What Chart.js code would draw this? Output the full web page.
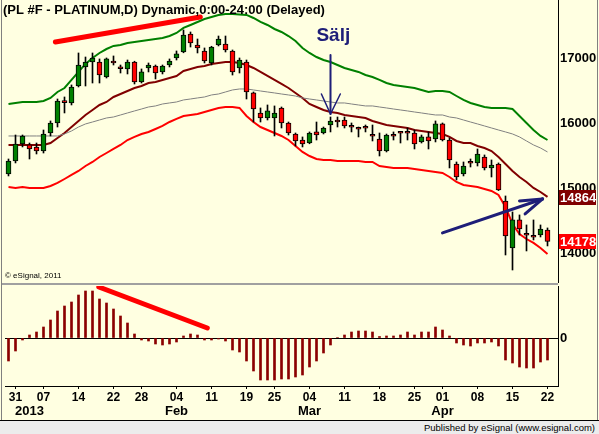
<!DOCTYPE html>
<html>
<head>
<meta charset="utf-8">
<script src="https://cdn.jsdelivr.net/npm/chart.js@4.4.1/dist/chart.umd.min.js"></script>
<style>
  html, body { margin: 0; padding: 0; background: #ececec; }
  #wrap { position: relative; width: 599px; height: 434px; background: #ffffe1; overflow: hidden; }
  #main { position: absolute; left: 0; top: 0; }
  #osc { position: absolute; left: 0; top: 286px; }
  #sep { position: absolute; left: 2px; top: 283px; width: 556px; height: 2px; background: #a0a0a0; }
  #lb { position: absolute; left: 1px; top: 0; width: 1px; height: 420px; background: #808080; }
  #rb { position: absolute; left: 597px; top: 0; width: 1px; height: 420px; background: #808080; }
  #footer { position: absolute; left: 0; top: 420px; width: 599px; height: 14px; background: #ececec;
            border-top: 1px solid #000; box-sizing: border-box; font: 9.5px "Liberation Sans", Arial, sans-serif;
            color: #000; text-align: right; padding-right: 4px; line-height: 13px; }
</style>
</head>
<body>
<div id="wrap">
  <canvas id="main" width="599" height="283"></canvas>
  <div id="sep"></div>
  <canvas id="osc" width="599" height="134"></canvas>
  <div id="lb"></div>
  <div id="rb"></div>
  <div id="footer">Published by eSignal (www.esignal.com)</div>
</div>
<script>
// trading days Dec 28 2012 .. Apr 22 2013
const dates = ['12-28','12-31','01-02','01-03','01-04','01-07','01-08','01-09','01-10','01-11',
  '01-14','01-15','01-16','01-17','01-18','01-22','01-23','01-24','01-25','01-28','01-29','01-30','01-31',
  '02-01','02-04','02-05','02-06','02-07','02-08','02-11','02-12','02-13','02-14','02-15','02-19','02-20',
  '02-21','02-22','02-25','02-26','02-27','02-28','03-01','03-04','03-05','03-06','03-07','03-08','03-11',
  '03-12','03-13','03-14','03-15','03-18','03-19','03-20','03-21','03-22','03-25','03-26','03-27','03-28',
  '04-01','04-02','04-03','04-04','04-05','04-08','04-09','04-10','04-11','04-12','04-15','04-16','04-17',
  '04-18','04-19','04-22'];

const open  = [15215,15415,15677,15662,15631,15569,15846,16000,16323,16308,16569,16862,16938,16938,16708,16954,16846,16831,16938,16631,
  16846,16877,16785,16892,17000,17092,17369,17200,17108,16923,17200,17215,17108,16846,16938,16462,16154,16077,16077,16231,
  16000,15831,15738,15692,15862,15846,15969,16046,16046,15938,15908,15923,15800,15754,15569,15800,15846,15846,15846,15708,
  15785,15754,15985,15738,15369,15215,15385,15385,15477,15308,15369,14800,14077,14508,14277,14246,14277,14354];
const high  = [15446,15815,15815,15692,15692,15892,16031,16369,16400,16585,17077,17015,17077,16985,17000,17031,16892,16969,16950,16831,
  16923,16892,16892,16985,17108,17431,17400,17292,17154,17180,17338,17338,17123,17000,16969,16477,16231,16277,16262,16246,
  16015,15846,15785,15862,16015,15938,16092,16092,16092,16000,15938,15969,15969,15846,15830,15862,15862,15923,15892,15815,
  15862,16031,16000,15769,15400,15400,15446,15600,15508,15431,15385,14877,14631,14585,14431,14508,14431,14385];
const low   = [15185,15385,15631,15446,15523,15538,15800,15938,16154,16277,16554,16569,16615,16615,16692,16892,16769,16754,16600,16615,
  16785,16677,16754,16862,16969,17080,17169,17077,16923,16892,17185,17092,16738,16769,16369,16015,16015,16046,15800,15923,
  15815,15646,15631,15680,15738,15831,15862,15938,15923,15862,15785,15862,15723,15492,15554,15738,15692,15738,15600,15692,
  15600,15708,15723,15308,15123,15185,15323,15338,15277,15169,14960,13969,13738,14277,14031,14200,14246,14108];
const close = [15415,15677,15800,15600,15569,15831,16000,16338,16312,16554,16892,16938,17000,16738,16985,16923,16834,16938,16631,16785,
  16892,16769,16877,16954,17062,17354,17231,17154,16954,17169,17292,17123,16785,16969,16477,16215,16077,16185,16154,16000,
  15846,15723,15677,15846,15815,15923,16031,16015,15954,15934,15904,15919,15796,15569,15815,15796,15842,15842,15677,15785,
  15723,15985,15738,15431,15169,15338,15381,15523,15308,15354,14969,14262,14508,14369,14273,14242,14369,14178];

const upper  = [16292,16308,16323,16323,16323,16338,16385,16477,16538,16662,16785,16908,17000,17077,17138,17185,17200,17231,17246,17262,
  17277,17292,17308,17338,17385,17462,17508,17554,17600,17631,17662,17677,17677,17670,17662,17615,17554,17508,17446,17400,
  17338,17262,17154,17077,17015,16969,16938,16892,16846,16815,16785,16738,16708,16662,16615,16585,16569,16554,16538,16508,
  16477,16492,16492,16477,16415,16354,16308,16277,16246,16231,16231,16231,16215,16108,16000,15892,15800,15738];
const middle = [15662,15662,15662,15662,15662,15662,15692,15769,15846,15938,16031,16123,16200,16277,16323,16400,16446,16492,16538,16569,
  16615,16631,16662,16692,16723,16800,16831,16862,16877,16908,16923,16938,16938,16923,16892,16846,16785,16723,16662,16600,
  16538,16462,16385,16292,16246,16200,16169,16154,16123,16108,16092,16077,16031,16000,15969,15954,15938,15923,15892,15877,
  15862,15846,15831,15785,15723,15692,15692,15646,15615,15569,15477,15369,15262,15169,15092,15000,14938,14864];
const slow   = [15800,15800,15800,15800,15800,15800,15800,15800,15831,15877,15938,15985,16015,16046,16077,16092,16123,16154,16185,16215,
  16246,16262,16292,16308,16323,16354,16369,16385,16400,16431,16446,16477,16508,16523,16523,16508,16492,16477,16462,16446,
  16431,16415,16385,16369,16354,16338,16323,16308,16308,16292,16277,16262,16262,16246,16231,16215,16200,16185,16169,16154,
  16138,16123,16123,16092,16077,16046,16015,15985,15954,15923,15892,15862,15831,15785,15723,15662,15615,15554];
const lower  = [15015,15000,15015,15000,15000,15000,15031,15077,15138,15200,15262,15338,15400,15477,15538,15600,15662,15738,15785,15831,
  15862,15908,15954,16015,16062,16108,16123,16138,16169,16200,16231,16246,16246,16231,16108,16015,15938,15892,15846,15800,
  15738,15646,15554,15492,15446,15431,15431,15415,15415,15415,15415,15400,15400,15338,15323,15308,15308,15308,15292,15277,
  15262,15246,15231,15169,15092,15046,15031,15015,14985,14954,14892,14708,14446,14292,14215,14154,14077,13985];

// oscillator histogram (lower pane)
const osc = [-23,-13,-2,3,6,11,18,27,32,36,43,47,47,39,35,29,22,15,4,-2,
  -3,-6,-7,-6,-4,2,4,3,-2,-2,-1,-3,-12,-14,-23,-33,-42,-42,-42,-41,
  -41,-39,-37,-29,-23,-15,-7,0.5,3,6,7,7,6,1.5,2,2,3,6,3,6,
  6,11,8,2,-5,-7,-8,-5,-5,-4,-8,-22,-25,-29,-30,-30,-24,-22];

const priceTicks = [14000, 15000, 16000, 17000];
const dayTickIdx = [1,5,10,15,19,24,29,34,38,43,48,53,58,62,67,72,77];
const dayTickText = ['31','07','14','22','28','04','11','19','25','04','11','18','25','01','08','15','22'];
const monthIdx = [3, 24, 43, 62];
const monthText = ['2013', 'Feb', 'Mar', 'Apr'];

// drawn annotations, in data units (index, price / osc value)
const mainTrend = [[6.7, 17246], [27.4, 17631]];
const oscTrend = [[12.9, 51], [28.4, 10]];
const saljShaft = [[46, 17046], [46, 16138]];
const saljBarbs = [[44.7, 16446], [47.4, 16446]];
const saljLabel = [46.4, 17338];
const blueShaft = [[62, 14308], [76.3, 14831]];
const blueBarbs = [[73, 14800], [73.8, 14600]];

const FONT = '"Liberation Sans", Arial, sans-serif';
const idx = dates.map((d, i) => i);

function lineSet(values, color, width) {
  return {
    type: 'line',
    data: values.map((v, i) => ({ x: i, y: v })),
    borderColor: color,
    borderWidth: width,
    pointRadius: 0,
    tension: 0,
    order: 3
  };
}

function seg(ctx, xs, ys, p, q) {
  ctx.beginPath();
  ctx.moveTo(xs.getPixelForValue(p[0]), ys.getPixelForValue(p[1]));
  ctx.lineTo(xs.getPixelForValue(q[0]), ys.getPixelForValue(q[1]));
  ctx.stroke();
}

// keep the plot area flush with the canvas edges
function noPad(width, height) {
  return s => {
    if (width) s.width = width;
    if (height) s.height = height;
    s.paddingTop = 0; s.paddingBottom = 0; s.paddingLeft = 0; s.paddingRight = 0;
  };
}

const mainDecor = {
  id: 'mainDecor',
  afterDatasetsDraw(chart) {
    const ctx = chart.ctx;
    const xs = chart.scales.x, ys = chart.scales.y;
    ctx.save();
    ctx.lineCap = 'round';
    ctx.strokeStyle = '#ff0000';
    ctx.lineWidth = 5;
    seg(ctx, xs, ys, mainTrend[0], mainTrend[1]);

    ctx.strokeStyle = '#1e1e78';
    ctx.lineWidth = 2;
    seg(ctx, xs, ys, saljShaft[0], saljShaft[1]);
    ctx.lineWidth = 1.5;
    seg(ctx, xs, ys, saljBarbs[0], saljShaft[1]);
    seg(ctx, xs, ys, saljBarbs[1], saljShaft[1]);

    ctx.lineWidth = 3;
    seg(ctx, xs, ys, blueShaft[0], blueShaft[1]);
    seg(ctx, xs, ys, blueBarbs[0], blueShaft[1]);
    seg(ctx, xs, ys, blueBarbs[1], blueShaft[1]);

    ctx.fillStyle = '#1e1e78';
    ctx.font = 'bold 19px ' + FONT;
    ctx.textAlign = 'center';
    ctx.textBaseline = 'middle';
    ctx.fillText('Sälj', xs.getPixelForValue(saljLabel[0]), ys.getPixelForValue(saljLabel[1]));
    ctx.restore();
  },
  afterDraw(chart) {
    const ctx = chart.ctx;
    const ys = chart.scales.y;
    const left = chart.chartArea.right;
    ctx.save();
    ctx.textBaseline = 'middle';
    ctx.textAlign = 'left';
    ctx.fillStyle = '#000';
    ctx.font = 'bold 13px ' + FONT;
    ctx.fillText('(PL #F - PLATINUM,D) Dynamic,0:00-24:00 (Delayed)', 3, 10);
    ctx.font = '8px ' + FONT;
    ctx.fillText('\u00a9 eSignal, 2011', 5, 276);

    const boxes = [[middle[middle.length - 1], '#800000'], [close[close.length - 1], '#ff0000']];
    ctx.font = 'bold 13px ' + FONT;
    boxes.forEach(([v, col]) => {
      const y = Math.round(ys.getPixelForValue(v));
      ctx.fillStyle = col;
      ctx.fillRect(left + 1, y - 7, 37, 15);
      ctx.fillStyle = '#fff';
      ctx.fillText(String(v), left + 2, y + 1);
    });
    ctx.restore();
  }
};

new Chart(document.getElementById('main'), {
  type: 'bar',
  data: {
    datasets: [
      lineSet(slow, '#808080', 1),
      lineSet(lower, '#ff0000', 2),
      lineSet(middle, '#800000', 2),
      lineSet(upper, '#008000', 2),
      {
        type: 'bar',
        data: idx.map(i => ({ x: i, y: [low[i], high[i]] })),
        backgroundColor: '#000',
        barThickness: 1,
        grouped: false,
        order: 2
      },
      {
        type: 'bar',
        data: idx.map(i => ({ x: i, y: [open[i], close[i]] })),
        backgroundColor: idx.map(i => close[i] >= open[i] ? '#008000' : '#ff0000'),
        borderColor: '#000',
        borderWidth: 1,
        borderSkipped: false,
        barThickness: 5,
        minBarLength: 2,
        grouped: false,
        order: 1
      }
    ]
  },
  options: {
    animation: false,
    responsive: false,
    layout: { autoPadding: false, padding: { left: 5, right: 0, top: 0, bottom: 0 } },
    plugins: { legend: { display: false }, tooltip: { enabled: false } },
    scales: {
      x: { type: 'linear', min: -0.5, max: 78.5, offset: false, display: false },
      y: {
        position: 'right',
        min: 13538,
        max: 17892,
        afterFit: noPad(41, 0),
        afterBuildTicks: s => { s.ticks = priceTicks.map(v => ({ value: v })); },
        grid: { display: false, drawTicks: false },
        border: { display: true, color: '#000' },
        ticks: { font: { family: FONT, weight: 'bold', size: 13 }, color: '#000', padding: 2, callback: v => String(v) }
      }
    }
  },
  plugins: [mainDecor]
});

const oscDecor = {
  id: 'oscDecor',
  afterDatasetsDraw(chart) {
    const ctx = chart.ctx;
    const xs = chart.scales.x, ys = chart.scales.y;
    ctx.save();
    ctx.lineCap = 'round';
    ctx.strokeStyle = '#ff0000';
    ctx.lineWidth = 5;
    seg(ctx, xs, ys, oscTrend[0], oscTrend[1]);
    ctx.fillStyle = '#000';
    ctx.font = 'bold 13px ' + FONT;
    ctx.textAlign = 'center';
    ctx.textBaseline = 'middle';
    monthIdx.forEach((m, k) => ctx.fillText(monthText[k], xs.getPixelForValue(m), 125));
    ctx.restore();
  }
};

new Chart(document.getElementById('osc'), {
  type: 'bar',
  data: {
    datasets: [{
      data: idx.map(i => ({ x: i, y: osc[i] })),
      backgroundColor: '#8b0000',
      barThickness: 2
    }]
  },
  options: {
    animation: false,
    responsive: false,
    layout: { autoPadding: false, padding: { left: 5, right: 0, top: 0, bottom: 0 } },
    plugins: { legend: { display: false }, tooltip: { enabled: false } },
    scales: {
      x: {
        type: 'linear',
        min: -0.5,
        max: 78.5,
        offset: false,
        afterFit: noPad(0, 34),
        afterBuildTicks: s => { s.ticks = dayTickIdx.map(v => ({ value: v })); },
        grid: { display: true, offset: false, drawOnChartArea: false, tickLength: 3, color: '#000' },
        border: { display: true, color: '#000' },
        ticks: {
          autoSkip: false, maxRotation: 0, padding: 1, color: '#000',
          font: { family: FONT, weight: 'bold', size: 12 },
          callback: v => dayTickText[dayTickIdx.indexOf(v)]
        }
      },
      y: {
        position: 'right',
        min: -48,
        max: 52,
        afterFit: noPad(41, 0),
        afterBuildTicks: s => { s.ticks = [{ value: 0 }]; },
        grid: { display: true, drawTicks: false, color: '#000' },
        border: { display: true, color: '#000' },
        ticks: { font: { family: FONT, weight: 'bold', size: 13 }, color: '#000', padding: 2 }
      }
    }
  },
  plugins: [oscDecor]
});
</script>
</body>
</html>
